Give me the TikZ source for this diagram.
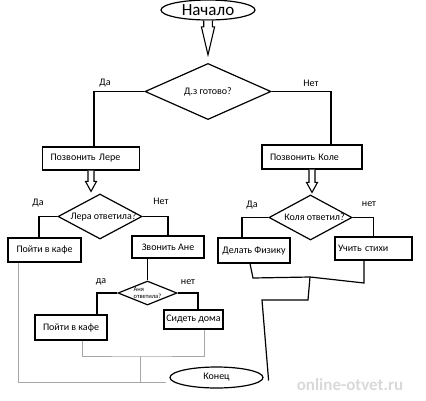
\documentclass[tikz,border=0pt]{standalone}
\usepackage{fontspec}
\setmainfont{Carlito}
\usetikzlibrary{shapes.geometric,calc,positioning}

% hollow block arrow: from, to, shaft half width, head half width, head length, gap
\newcommand{\hollowarrow}[6]{%
  \draw[hollow] let \p1=(#1.south), \p2=(#2.north) in
    (\x1-#3,\y1) -- (\x1-#3,\y2+#6+#5) -- (\x1-#4,\y2+#6+#5) -- (\x1,\y2+#6)
    -- (\x1+#4,\y2+#6+#5) -- (\x1+#3,\y2+#6+#5) -- (\x1+#3,\y1);}

\begin{document}
\begin{tikzpicture}[x=1pt, y=-1pt,
    box/.style={rectangle, draw, line width=1.2pt, inner sep=2pt,
                font=\fontsize{10}{12}\selectfont},
    dia/.style={diamond, draw, line width=1.2pt, inner sep=0pt,
                font=\fontsize{10}{12}\selectfont},
    oval/.style={ellipse, draw, line width=1.2pt, inner sep=0pt},
    lbl/.style={font=\fontsize{10}{12}\selectfont},
    line/.style={line width=1.2pt},
    feed/.style={line width=0.5pt, gray!70},
    hollow/.style={draw, line width=1.1pt, fill=white, line join=miter}]

    \useasboundingbox (0,0) rectangle (426,400);

    % Start and first question
    \node[oval, minimum width=94pt, minimum height=20pt,
          font=\fontsize{17}{20}\selectfont] (start) at (208,10) {Начало};
    \node[dia, minimum width=126pt, minimum height=51pt] (q1) at (208,91.5) {Д.з готово?};
    \hollowarrow{start}{q1}{4.3pt}{6.6pt}{28pt}{8pt}

    \node[lbl] (yes1) at (105,83) {Да};
    \node[lbl] (no1) at (311,83) {Нет};

    % Left branch
    \node[box, text width=81pt, inner xsep=8pt, minimum height=23pt, align=left]
          (lera) at (91,158.5) {Позвонить Лере};
    \node[dia, minimum width=84pt, minimum height=45pt] (q2) at (100,216.5)
          {\makebox[0pt]{\hspace{7pt}Лера ответила?}};
    \hollowarrow{lera}{q2}{3pt}{5.5pt}{10pt}{2pt}

    \node[lbl] (yes2) at (38,203) {Да};
    \node[lbl] (no2) at (161,201) {Нет};

    \node[box, minimum width=73pt, minimum height=24pt] (cafe1) at (44.5,250) {Пойти в кафе};
    \node[box, minimum width=72pt, minimum height=22pt] (anya) at (168,247) {Звонить Ане};

    \node[dia, minimum width=59pt, minimum height=24pt,
          font=\fontsize{6.5}{7.5}\selectfont] (q4) at (147.5,293)
          {\makebox[0pt]{\shortstack[l]{Аня\\ответила?}}};

    \node[lbl] (yes4) at (101,282) {да};
    \node[lbl] (no4) at (188,282) {нет};

    \node[box, minimum width=72pt, minimum height=25pt] (cafe2) at (71,327.5) {Пойти в кафе};
    \node[box, minimum width=59pt, minimum height=19pt, inner sep=1pt]
          (home) at (193.5,319.5) {Сидеть дома};

    % Right branch
    \node[box, text width=84pt, inner xsep=8pt, minimum height=24pt, align=left]
          (kolya) at (312,157) {Позвонить Коле};
    \node[dia, minimum width=83pt, minimum height=45pt] (q3) at (310.5,217.5)
          {\makebox[0pt]{\hspace{8pt}Коля ответил?}};
    \hollowarrow{kolya}{q3}{3pt}{5.5pt}{10pt}{2pt}

    \node[lbl] (yes3) at (252,205) {Да};
    \node[lbl] (no3) at (369,204) {нет};

    \node[box, minimum width=72pt, minimum height=25pt, inner sep=1pt]
          (physics) at (254,250.5) {Делать Физику};
    \node[box, text width=71pt, inner xsep=3pt, minimum height=23pt, align=left]
          (poems) at (373.5,248.5) {Учить стихи};

    % End
    \node[oval, minimum width=93pt, minimum height=21pt,
          font=\fontsize{10}{12}\selectfont] (finish) at (216.5,377.5) {Конец};

    % Branch lines
    \draw[line] (q1.west) -| ([xshift=3pt]lera.north);
    \draw[line] (q1.east) -| ([xshift=19pt]kolya.north);
    \draw[line] (q2.west) -| ([xshift=-5.5pt]cafe1.north);
    \draw[line] (q2.east) -| (anya.north);
    \draw[line] (q4.north |- anya.south) -- (q4.north);
    \draw[line] (q4.west) -| ([xshift=26pt]cafe2.north);
    \draw[line] (q4.east) -| ([xshift=4.5pt]home.north);
    \draw[line] (q3.west) -| ([xshift=-12pt]physics.north);
    \draw[line] (q3.east) -| (poems.north);

    % Joining lines to the end
    \coordinate (low) at ([xshift=-3pt, yshift=-5pt]finish.west);
    \coordinate (merge) at (140,356);
    \draw[feed] ([xshift=-26.5pt]cafe1.south) |- (low);
    \draw[feed] ([xshift=11pt]cafe2.south) |- (merge) -| ([xshift=10.5pt]home.south);
    \draw[feed] (merge) -- (merge |- low);

    \coordinate (m1) at (253,278);
    \coordinate (m2) at (310,277);
    \coordinate (m3) at (364,283);
    \coordinate (m4) at (308,300);
    \coordinate (m5) at (262,300);
    \draw[line] ([xshift=-4pt]physics.south) -- (m1) -- (m2) -- (m3)
          -- ([xshift=-9.5pt]poems.south);
    \draw[line] (m2) -- (m4) -- (m5) -- ([xshift=5pt, yshift=-3pt]finish.east);

    % Watermark
    \node[font=\fontsize{17}{20}\selectfont\bfseries, text=gray!30] (mark)
          at (350,385) {online-otvet.ru};

\end{tikzpicture}
\end{document}
